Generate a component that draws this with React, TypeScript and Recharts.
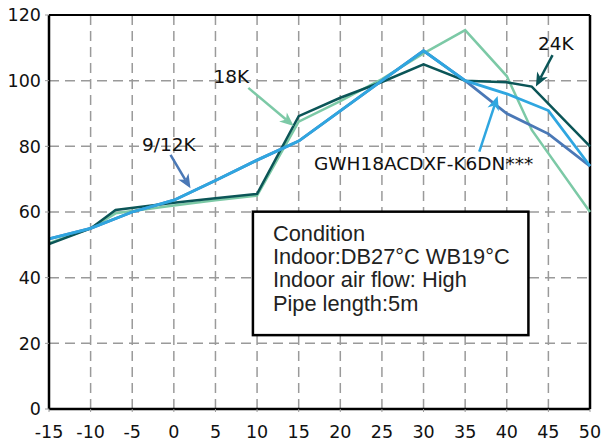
import React from 'react';
import {
  LineChart,
  Line,
  XAxis,
  YAxis,
  CartesianGrid,
  ReferenceLine,
  ReferenceArea,
  ReferenceDot,
} from 'recharts';

// outdoor temperature (°C) vs cooling capacity (%)
const temps24K = [-15, -10, -7, 0, 5, 10, 15, 20, 25, 30, 35, 40, 43, 50];
const cap24K = [50.2, 55, 60.6, 62.8, 64.2, 65.5, 89.2, 94.8, 99.6, 105, 100, 99.5, 98.2, 80];

const temps18K = [-15, -10, -7, 0, 5, 10, 15, 20, 25, 30, 35, 40, 43, 50];
const cap18K = [50.5, 55, 59.6, 62, 63.6, 65, 87.5, 93.8, 100.5, 108.3, 115.4, 101.4, 85, 60];

const tempsSmall = [-15, -10, -5, 0, 5, 10, 15, 20, 25, 30, 35, 40, 45, 50];
const cap912K = [51.8, 55, 60, 63.6, 69.6, 75.8, 81.6, 90.8, 100, 109.1, 100, 90, 83.8, 74];
const capGWH = [51.8, 55, 60, 63.6, 69.6, 75.8, 81.6, 90.8, 100, 109.1, 100, 96, 90.9, 74];

const xTicks = [-15, -10, -5, 0, 5, 10, 15, 20, 25, 30, 35, 40, 45, 50];
const yTicks = [0, 20, 40, 60, 80, 100, 120];

const conditionLines = [
  'Condition',
  'Indoor:DB27°C WB19°C',
  'Indoor air flow: High',
  'Pipe length:5m',
];

const toPoints = (xs: number[], ys: number[]) => xs.map((t, i) => ({ t, v: ys[i] }));

const data24K = toPoints(temps24K, cap24K);
const data18K = toPoints(temps18K, cap18K);
const data912K = toPoints(tempsSmall, cap912K);
const dataGWH = toPoints(tempsSmall, capGWH);

const C24 = '#0b5557';
const C18 = '#7cc9a6';
const C912 = '#4a78b6';
const CGWH = '#2fa6e0';

const LABEL_FONT = '"DejaVu Sans", sans-serif';

const arrowShape = (color: string) => (props: any) => {
  const { x1, y1, x2, y2 } = props;
  const dx = x2 - x1;
  const dy = y2 - y1;
  const len = Math.sqrt(dx * dx + dy * dy) || 1;
  const ux = dx / len;
  const uy = dy / len;
  const head = 14;
  const half = 6;
  const bx = x2 - ux * head;
  const by = y2 - uy * head;
  const nx = x2 - ux * (head - 4);
  const ny = y2 - uy * (head - 4);
  const pts = [
    `${x2},${y2}`,
    `${bx - uy * half},${by + ux * half}`,
    `${nx},${ny}`,
    `${bx + uy * half},${by - ux * half}`,
  ].join(' ');
  return (
    <g>
      <line x1={x1} y1={y1} x2={nx} y2={ny} stroke={color} strokeWidth={2.5} />
      <polygon points={pts} fill={color} />
    </g>
  );
};

const textShape = (text: string) => (props: any) => (
  <text
    x={props.cx}
    y={props.cy}
    textAnchor="middle"
    dominantBaseline="central"
    fontFamily={LABEL_FONT}
    fontSize={18.5}
    fill="#111"
  >
    {text}
  </text>
);

const conditionBox = (props: any) => {
  const { x, y, width, height } = props;
  return (
    <g>
      <rect x={x} y={y} width={width} height={height} fill="#fff" stroke="#000" strokeWidth={2.5} />
      {conditionLines.map((line, i) => (
        <text
          key={line}
          x={x + 20}
          y={y + 29 + i * 23.3}
          fontFamily='"Liberation Sans", Arial, sans-serif'
          fontSize={21.8}
          fill="#222"
        >
          {line}
        </text>
      ))}
    </g>
  );
};

const App = () => {
  return (
    <div style={{ position: 'absolute', left: 0, top: 0, width: 603, height: 447, background: '#fff' }}>
      <LineChart width={603} height={447} margin={{ top: 15, right: 13, bottom: 0, left: 0 }}>
        <CartesianGrid stroke="#9a9a9a" strokeWidth={1.5} strokeDasharray="10 6" />
        <XAxis
          dataKey="t"
          type="number"
          domain={[-15, 50]}
          ticks={xTicks}
          allowDuplicatedCategory={false}
          height={38}
          axisLine={{ stroke: '#000', strokeWidth: 2.5 }}
          tickLine={{ stroke: '#999' }}
          tickSize={3}
          tickMargin={14}
          tick={{ fill: '#111', fontSize: 17.5, fontFamily: LABEL_FONT }}
        />
        <YAxis
          type="number"
          domain={[0, 120]}
          ticks={yTicks}
          width={49}
          axisLine={{ stroke: '#000', strokeWidth: 2.5 }}
          tickLine={{ stroke: '#999' }}
          tickSize={4}
          tickMargin={4}
          tick={{ fill: '#111', fontSize: 17.5, fontFamily: LABEL_FONT }}
        />
        <ReferenceLine y={120} stroke="#000" strokeWidth={2} />
        <ReferenceLine x={50} stroke="#000" strokeWidth={2.5} />

        <ReferenceArea x1={9.5} x2={42.6} y1={22.5} y2={60.1} shape={conditionBox} />

        <Line data={data18K} dataKey="v" stroke={C18} strokeWidth={2.5} dot={false} isAnimationActive={false} />
        <Line data={data24K} dataKey="v" stroke={C24} strokeWidth={2.5} dot={false} isAnimationActive={false} />
        <Line data={data912K} dataKey="v" stroke={C912} strokeWidth={2.8} dot={false} isAnimationActive={false} />
        <Line data={dataGWH} dataKey="v" stroke={CGWH} strokeWidth={2.8} dot={false} isAnimationActive={false} />

        <ReferenceLine segment={[{ x: 8.95, y: 97.8 }, { x: 14.4, y: 86.2 }]} shape={arrowShape(C18)} />
        <ReferenceLine segment={[{ x: -0.4, y: 77.4 }, { x: 2.0, y: 67.2 }]} shape={arrowShape(C912)} />
        <ReferenceLine segment={[{ x: 45.5, y: 107.8 }, { x: 43.5, y: 98.2 }]} shape={arrowShape(C24)} />
        <ReferenceLine segment={[{ x: 36.7, y: 78.4 }, { x: 38.9, y: 95.3 }]} shape={arrowShape(CGWH)} />

        <ReferenceDot x={6.9} y={101.4} r={0} shape={textShape('18K')} />
        <ReferenceDot x={-0.6} y={80.7} r={0} shape={textShape('9/12K')} />
        <ReferenceDot x={45.9} y={111.2} r={0} shape={textShape('24K')} />
        <ReferenceDot x={30} y={74.9} r={0} shape={textShape('GWH18ACDXF-K6DN***')} />
      </LineChart>
    </div>
  );
};

export default App;
